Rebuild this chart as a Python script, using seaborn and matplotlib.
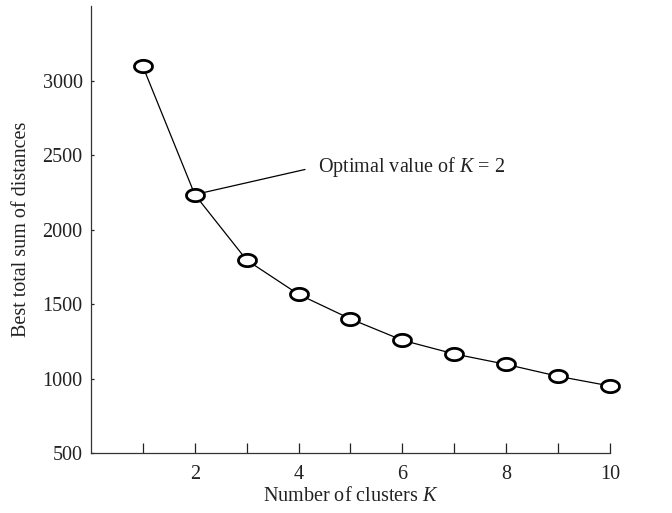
import numpy as np
import pandas as pd
import matplotlib
matplotlib.use("Agg")
import matplotlib.pyplot as plt
from matplotlib.path import Path
import seaborn as sns

clusters = [1, 2, 3, 4, 5, 6, 7, 8, 9, 10]
distances = [3095, 2235, 1795, 1565, 1400, 1257, 1165, 1095, 1015, 950]
xtick_vals = [1, 2, 3, 4, 5, 6, 7, 8, 9, 10]
xtick_labels = ["", "2", "", "4", "", "6", "", "8", "", "10"]
ytick_vals = [500, 1000, 1500, 2000, 2500, 3000]

sns.set_theme(style="ticks")
plt.rcParams["font.family"] = ["Liberation Serif", "DejaVu Serif"]
plt.rcParams["mathtext.fontset"] = "custom"
plt.rcParams["mathtext.it"] = "Liberation Serif:italic"
plt.rcParams["mathtext.rm"] = "Liberation Serif"

df = pd.DataFrame({"K": clusters, "D": distances})

fig = plt.figure(figsize=(6.72, 5.13), dpi=100)
ax = fig.add_axes([0.1354, 0.117, 0.7723, 0.871])

theta = np.linspace(0, 2 * np.pi, 60)
ellipse = Path(np.column_stack([np.cos(theta) * 1.0, np.sin(theta) * 0.68]))

sns.lineplot(data=df, x="K", y="D", ax=ax, color="black", linewidth=0.9,
             marker=ellipse, markersize=13, markerfacecolor="white",
             markeredgecolor="black", markeredgewidth=2.0, clip_on=False)

ax.set_xlim(0, 10)
ax.set_ylim(500, 3500)
ax.set_xticks(xtick_vals)
ax.set_xticklabels(xtick_labels)
ax.set_yticks(ytick_vals)
ax.tick_params(axis="x", direction="in", length=7, width=0.9, labelsize=14.5, colors="#222222", pad=9)
ax.tick_params(axis="y", direction="in", length=2.5, width=0.9, labelsize=14.5, colors="#222222", pad=6)
for s in ["top", "right"]:
    ax.spines[s].set_visible(False)
for s in ["left", "bottom"]:
    ax.spines[s].set_color("#333333")
    ax.spines[s].set_linewidth(0.9)

ax.set_xlabel("Number of clusters $K$", fontsize=14.5, color="#222222", labelpad=2)
ax.set_ylabel("Best total sum of distances", fontsize=14.5, color="#222222", labelpad=8)

ax.annotate("Optimal value of $K$ = 2", xy=(clusters[1], distances[1]),
            xytext=(4.37, 2423), fontsize=14.5, color="#222222", va="center", ha="left",
            arrowprops=dict(arrowstyle="-", color="black", lw=0.9,
                            relpos=(0, 0.5), shrinkA=7, shrinkB=7))

fig.savefig("out.png", dpi=100)
